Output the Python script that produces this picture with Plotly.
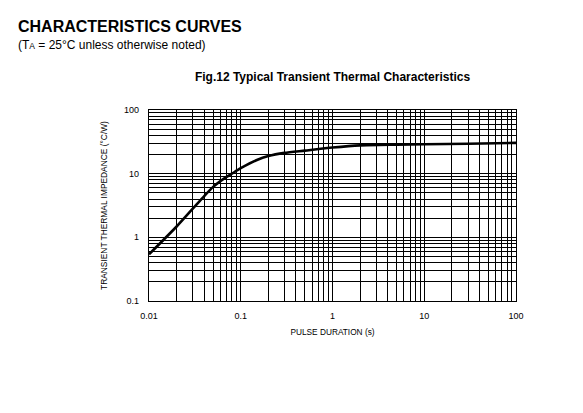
import plotly.graph_objects as go

# Transient thermal impedance vs pulse duration
pulse_s = [0.01, 0.02, 0.03, 0.04, 0.05, 0.07, 0.08, 0.1, 0.15, 0.2, 0.3, 0.5, 1, 2, 5, 10, 30, 100]
zth = [0.54, 1.48, 2.82, 4.45, 6.2, 8.9, 10.0, 12.2, 16.4, 18.9, 21.2, 23.0, 25.7, 27.8, 28.5, 28.9, 29.5, 30.5]

x_ticks = [0.01, 0.1, 1, 10, 100]
x_labels = ['0.01', '0.1', '1', '10', '100']
y_ticks = [0.1, 1, 10, 100]
y_labels = ['0.1', '1', '10', '100']

FONT = 'Liberation Sans, Arial, sans-serif'

# page has an 8px body margin, so positions are shifted by that
L, R, T, B = 141, 75, 102, 120
W, H = 583, 413
PW, PH = W - L - R, H - T - B

fig = go.Figure()
fig.add_trace(go.Scatter(
    x=pulse_s, y=zth,
    mode='lines',
    line=dict(color='black', width=2.6, shape='spline', smoothing=0.6),
    showlegend=False,
    hoverinfo='skip',
))

axis_common = dict(
    type='log',
    showline=True, mirror=True, linecolor='black', linewidth=1.2,
    showgrid=True, gridcolor='black', gridwidth=1,
    zeroline=False,
    ticks='',
    tickfont=dict(family=FONT, size=9, color='black'),
    minor=dict(showgrid=True, gridcolor='black', gridwidth=0.8, dtick='D1', ticks=''),
)

fig.update_layout(
    width=W, height=H,
    margin=dict(l=L, r=R, t=T, b=B),
    paper_bgcolor='white', plot_bgcolor='white',
    font=dict(family=FONT, color='black'),
    xaxis=dict(
        axis_common,
        range=[-2, 2],
        tickvals=x_ticks, ticktext=x_labels,
        ticklabelstandoff=6,
        title=dict(text='PULSE DURATION (s)', font=dict(size=8.3), standoff=9),
    ),
    yaxis=dict(
        axis_common,
        range=[-1, 2],
        tickvals=y_ticks, ticktext=y_labels,
        ticklabelstandoff=7,
        title=dict(text='TRANSIENT THERMAL IMPEDANCE (°C/W)', font=dict(size=8.4), standoff=15),
    ),
    title=dict(
        text='<b>Fig.12 Typical Transient Thermal Characteristics</b>',
        font=dict(family=FONT, size=12, color='black'),
        x=324.5 / W, xanchor='center',
        y=1 - 69 / H, yanchor='middle',
    ),
    annotations=[
        dict(text='<b>CHARACTERISTICS CURVES</b>', xref='paper', yref='paper',
             x=-133 / PW, y=1 + 83 / PH, xanchor='left', yanchor='middle',
             showarrow=False, font=dict(family=FONT, size=16, color='black')),
        dict(text="(T<span style='font-size:8.5px'>A</span> = 25°C unless otherwise noted)",
             xref='paper', yref='paper',
             x=-133 / PW, y=1 + 65 / PH, xanchor='left', yanchor='middle',
             showarrow=False, font=dict(family=FONT, size=12, color='black')),
    ],
)

fig.write_html('out.html')
